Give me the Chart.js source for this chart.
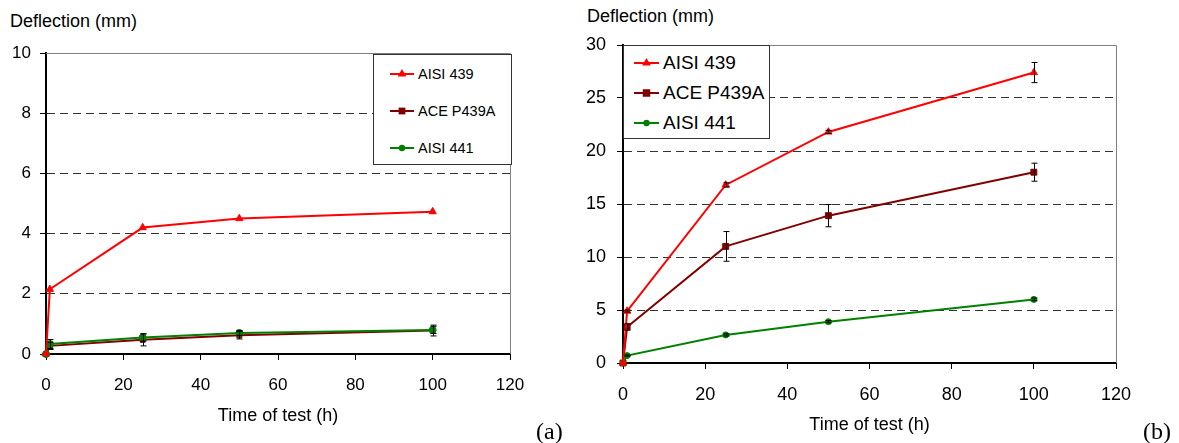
<!DOCTYPE html>
<html lang="en">
<head>
<meta charset="UTF-8">
<title>Deflection vs time of test</title>
<script src="https://cdn.jsdelivr.net/npm/chart.js"></script>
<style>
  body { margin: 0; background: #fff; font-family: "Liberation Sans", Arial, sans-serif; color: #000; }
  .page { position: relative; width: 1179px; height: 443px; overflow: hidden; }
  .panel { position: absolute; top: 0; }
  .ytitle { position: absolute; font-size: 18px; line-height: 1; white-space: nowrap; }
  .tag { position: absolute; font-family: "Liberation Serif", "Times New Roman", serif; font-size: 24px; line-height: 1; }
  .legend { position: absolute; background: #fff; border: 1px solid #333; box-sizing: border-box; }
  .legend .item { display: flex; align-items: center; white-space: nowrap; }
  .legend svg { flex: none; }
</style>
</head>
<body>
<div class="page">
  <div class="ytitle" style="left:10px; top:12px;">Deflection (mm)</div>
  <div class="ytitle" style="left:587px; top:7px;">Deflection (mm)</div>
  <canvas class="panel" id="chartA" width="580" height="443" style="left:0;"></canvas>
  <canvas class="panel" id="chartB" width="599" height="443" style="left:580px;"></canvas>
  <div class="legend" id="legendA" style="left:373px; top:54px; width:139px; height:111px; padding:0 0 0 16px; font-size:14.5px;"></div>
  <div class="legend" id="legendB" style="left:623px; top:45px; width:147px; height:94px; padding:2px 0 0 10px; font-size:19px;"></div>
  <div class="tag" style="left:536px; top:419px;">(a)</div>
  <div class="tag" style="left:1143px; top:419px;">(b)</div>
</div>
<script>
// time of test (h)
const hours = [0, 1, 25, 50, 100];
const xTicks = [0, 20, 40, 60, 80, 100, 120];

const seriesNames = ['AISI 439', 'ACE P439A', 'AISI 441'];
const seriesColors = ['#ff0000', '#800000', '#008000'];
const pointShapes = ['triangle', 'rect', 'circle'];

// (a) deflection in mm
const yTicksA = [0, 2, 4, 6, 8, 10];
const aisi439A = [0, 2.15, 4.2, 4.5, 4.73];
const aceA = [0, 0.27, 0.47, 0.62, 0.78];
const aisi441A = [0, 0.33, 0.55, 0.7, 0.8];
const aisi439AErr = [0, 0, 0, 0, 0];
const aceAErr = [0, 0.12, 0.2, 0.12, 0.18];
const aisi441AErr = [0, 0.15, 0.12, 0.08, 0.12];

// (b) deflection in mm
const yTicksB = [0, 5, 10, 15, 20, 25, 30];
const aisi439B = [0, 4.9, 16.8, 21.8, 27.4];
const aceB = [0, 3.4, 11.0, 13.9, 18.0];
const aisi441B = [0, 0.7, 2.65, 3.9, 6.0];
const aisi439BErr = [0, 0.1, 0.2, 0.15, 0.95];
const aceBErr = [0, 0.3, 1.4, 1.05, 0.85];
const aisi441BErr = [0, 0.05, 0.1, 0.1, 0.12];

Chart.defaults.font.family = '"Liberation Sans", Arial, sans-serif';
Chart.defaults.color = '#000';

// vertical error bars with caps, from each dataset's errors array
const errorBars = {
    id: 'errorBars',
    afterDatasetsDraw(chart) {
        const ctx = chart.ctx;
        const xs = chart.scales.x, ys = chart.scales.y;
        ctx.save();
        ctx.strokeStyle = '#000';
        ctx.lineWidth = 1;
        chart.data.datasets.forEach(ds => {
            ds.data.forEach((p, i) => {
                const e = ds.errors[i];
                if (!e) return;
                const px = Math.round(xs.getPixelForValue(p.x)) + 0.5;
                const top = ys.getPixelForValue(p.y + e);
                const bot = ys.getPixelForValue(p.y - e);
                ctx.beginPath();
                ctx.moveTo(px, top); ctx.lineTo(px, bot);
                ctx.moveTo(px - 3, top); ctx.lineTo(px + 3, top);
                ctx.moveTo(px - 3, bot); ctx.lineTo(px + 3, bot);
                ctx.stroke();
            });
        });
        ctx.restore();
    }
};

// grey plot-area frame on the top and right sides
const plotFrame = {
    id: 'plotFrame',
    beforeDatasetsDraw(chart) {
        const {ctx, chartArea: a} = chart;
        ctx.save();
        ctx.strokeStyle = '#808080';
        ctx.lineWidth = 1;
        ctx.beginPath();
        ctx.moveTo(a.left, a.top + 0.5); ctx.lineTo(a.right + 0.5, a.top + 0.5);
        ctx.lineTo(a.right + 0.5, a.bottom);
        ctx.stroke();
        ctx.restore();
    }
};

function makeDatasets(values, errors, radii) {
    return values.map((vals, k) => ({
        label: seriesNames[k],
        data: hours.map((h, i) => ({x: h, y: vals[i]})),
        errors: errors[k],
        borderColor: seriesColors[k],
        backgroundColor: seriesColors[k],
        pointBackgroundColor: seriesColors[k],
        pointBorderColor: seriesColors[k],
        pointStyle: pointShapes[k],
        pointRadius: radii[k],
        pointBorderWidth: 1,
        borderWidth: 2,
        tension: 0,
        clip: false,
        order: [0, 2, 1][k]
    }));
}

function makeChart(id, datasets, yTicks, g) {
    return new Chart(document.getElementById(id), {
        type: 'line',
        data: {datasets: datasets},
        plugins: [plotFrame, errorBars],
        options: {
            responsive: false,
            animation: false,
            layout: {padding: {left: 0, top: g.top, right: g.right, bottom: 0}},
            plugins: {legend: {display: false}, tooltip: {enabled: false}},
            scales: {
                x: {
                    type: 'linear',
                    min: xTicks[0], max: xTicks[xTicks.length - 1],
                    ticks: {stepSize: xTicks[1] - xTicks[0], padding: 15, font: {size: g.tickSize}, maxRotation: 0},
                    grid: {drawOnChartArea: false, drawTicks: true, tickLength: 6, tickColor: '#000'},
                    border: {display: true, color: '#000', width: 2},
                    title: {display: true, text: 'Time of test (h)', font: {size: 18}, padding: {top: 0, bottom: g.titlePad}},
                    afterFit: s => { s.height = g.xHeight; }
                },
                y: {
                    min: yTicks[0], max: yTicks[yTicks.length - 1],
                    ticks: {stepSize: yTicks[1] - yTicks[0], padding: g.yPad, font: {size: g.tickSize}},
                    grid: {color: '#333', lineWidth: 1, tickLength: 6, tickColor: '#000', tickBorderDash: []},
                    border: {display: true, color: '#000', width: 2, dash: [8, 5]},
                    afterFit: s => { s.width = g.yWidth; }
                }
            }
        }
    });
}

function buildLegend(id, rowHeight, lineWidth, radii) {
    const box = document.getElementById(id);
    seriesNames.forEach((name, k) => {
        const c = seriesColors[k], r = radii[k], m = lineWidth / 2;
        let mark;
        if (pointShapes[k] === 'triangle') {
            mark = `<polygon points="${m},${6 - r} ${m + r * 0.87},${6 + r / 2} ${m - r * 0.87},${6 + r / 2}" fill="${c}"/>`;
        } else if (pointShapes[k] === 'rect') {
            const s = r * 0.75;
            mark = `<rect x="${m - s}" y="${6 - s}" width="${2 * s}" height="${2 * s}" fill="${c}"/>`;
        } else {
            mark = `<circle cx="${m}" cy="6" r="${r * 0.8}" fill="${c}"/>`;
        }
        const row = document.createElement('div');
        row.className = 'item';
        row.style.height = rowHeight + 'px';
        row.innerHTML = `<svg width="${lineWidth}" height="12"><line x1="0" y1="6" x2="${lineWidth}" y2="6" stroke="${c}" stroke-width="2"/>${mark}</svg><span style="margin-left:4px">${name}</span>`;
        box.appendChild(row);
    });
}

makeChart('chartA',
    makeDatasets([aisi439A, aceA, aisi441A], [aisi439AErr, aceAErr, aisi441AErr], [4.2, 3.5, 3.5]),
    yTicksA,
    {top: 53, right: 70, xHeight: 89, yWidth: 46, yPad: 9, titlePad: 16, tickSize: 17});

makeChart('chartB',
    makeDatasets([aisi439B, aceB, aisi441B], [aisi439BErr, aceBErr, aisi441BErr], [4.2, 4.2, 3]),
    yTicksB,
    {top: 45, right: 63, xHeight: 80, yWidth: 43, yPad: 11, titlePad: 7, tickSize: 18});

buildLegend('legendA', 37, 24, [5, 4.5, 4]);
buildLegend('legendB', 30, 25, [5, 5, 4]);
</script>
</body>
</html>
